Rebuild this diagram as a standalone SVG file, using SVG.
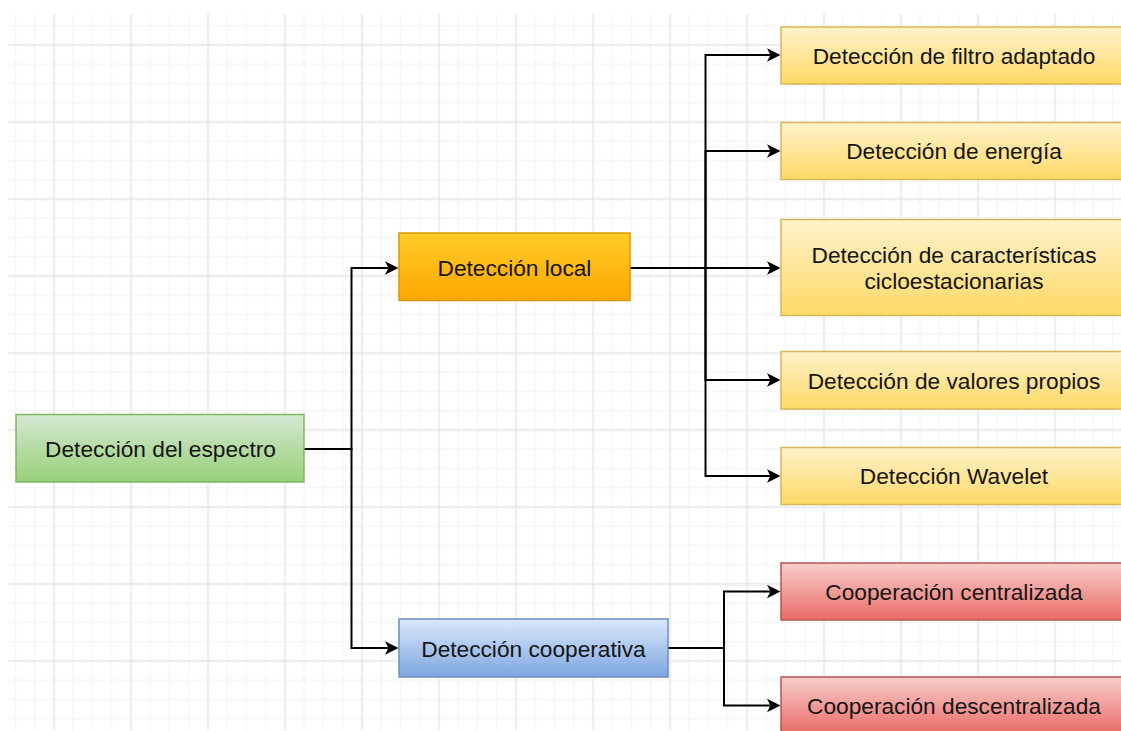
<svg xmlns="http://www.w3.org/2000/svg" width="1121" height="731" viewBox="0 0 1121 731">
  <style>
    .lbl { font-family: "Liberation Sans", Arial, sans-serif; font-size: 22.7px; fill: #151515; text-anchor: middle; }
    .box { stroke-width: 1.5; }
    .edge { fill: none; stroke: #000; stroke-width: 2; marker-end: url(#arrow); }
  </style>
  <defs>
    <!-- grid tile: one major line and three minor lines per 77px -->
    <pattern id="grid" patternUnits="userSpaceOnUse" x="44.375" y="35.375" width="77" height="77">
      <g stroke="#f3f3f3" stroke-width="1.2">
        <path d="M28.875,0V77M48.125,0V77M67.375,0V77"/>
        <path d="M0,28.875H77M0,48.125H77M0,67.375H77"/>
      </g>
      <g stroke="#e6e6e6" stroke-width="1.6">
        <path d="M9.625,0V77M0,9.625H77"/>
      </g>
    </pattern>
    <linearGradient id="gGreen" x1="0" y1="0" x2="0" y2="1">
      <stop offset="0" stop-color="#d5e8d4"/><stop offset="1" stop-color="#97d077"/>
    </linearGradient>
    <linearGradient id="gOrange" x1="0" y1="0" x2="0" y2="1">
      <stop offset="0" stop-color="#ffcd28"/><stop offset="1" stop-color="#ffa500"/>
    </linearGradient>
    <linearGradient id="gBlue" x1="0" y1="0" x2="0" y2="1">
      <stop offset="0" stop-color="#dae8fc"/><stop offset="1" stop-color="#7ea6e0"/>
    </linearGradient>
    <linearGradient id="gYellow" x1="0" y1="0" x2="0" y2="1">
      <stop offset="0" stop-color="#fff2cc"/><stop offset="1" stop-color="#ffd966"/>
    </linearGradient>
    <linearGradient id="gRed" x1="0" y1="0" x2="0" y2="1">
      <stop offset="0" stop-color="#f8cecc"/><stop offset="1" stop-color="#ea6b66"/>
    </linearGradient>
    <marker id="arrow" markerUnits="userSpaceOnUse" markerWidth="14" markerHeight="14" viewBox="0 0 14 14" refX="3.4" refY="7" orient="auto">
      <path d="M13.5,7L0,0.3L3.4,7L0,13.7Z" fill="#000"/>
    </marker>
  </defs>

  <!-- canvas -->
  <rect width="1121" height="731" fill="#ffffff"/>
  <rect x="8" y="14" width="1113" height="716" fill="url(#grid)"/>

  <!-- connectors -->
  <g id="connectors">
    <path class="edge" d="M304,449H351.5V268H388.4"/>
    <path class="edge" d="M304,449H351.5V648H388.4"/>
    <path class="edge" d="M630,268H705.5V55H770.4"/>
    <path class="edge" d="M630,268H705.5V151H770.4"/>
    <path class="edge" d="M630,268H770.4"/>
    <path class="edge" d="M630,268H705.5V380H770.4"/>
    <path class="edge" d="M630,268H705.5V476H770.4"/>
    <path class="edge" d="M668,648H724V591.5H770.4"/>
    <path class="edge" d="M668,648H724V705.5H770.4"/>
  </g>

  <!-- root -->
  <g id="node-espectro">
    <rect class="box" x="16" y="414.5" width="288" height="67.5" fill="url(#gGreen)" stroke="#82b366"/>
    <text class="lbl" x="160.5" y="457">Detección del espectro</text>
  </g>

  <!-- second level -->
  <g id="node-local">
    <rect class="box" x="399" y="233" width="231" height="67.5" fill="url(#gOrange)" stroke="#d79b00"/>
    <text class="lbl" x="514.5" y="275.5">Detección local</text>
  </g>
  <g id="node-cooperativa">
    <rect class="box" x="399" y="619" width="269" height="58" fill="url(#gBlue)" stroke="#6c8ebf"/>
    <text class="lbl" x="533.5" y="656.5">Detección cooperativa</text>
  </g>

  <!-- local detection methods -->
  <g id="node-filtro">
    <rect class="box" x="781" y="27" width="346.5" height="57" fill="url(#gYellow)" stroke="#d6b656"/>
    <text class="lbl" x="954" y="63.5">Detección de filtro adaptado</text>
  </g>
  <g id="node-energia">
    <rect class="box" x="781" y="122.5" width="346.5" height="57" fill="url(#gYellow)" stroke="#d6b656"/>
    <text class="lbl" x="954" y="159">Detección de energía</text>
  </g>
  <g id="node-ciclo">
    <rect class="box" x="781" y="219.5" width="346.5" height="96" fill="url(#gYellow)" stroke="#d6b656"/>
    <text class="lbl" x="954" y="262.5">Detección de características</text>
    <text class="lbl" x="954" y="288.5">cicloestacionarias</text>
  </g>
  <g id="node-valores">
    <rect class="box" x="781" y="351.5" width="346.5" height="57.5" fill="url(#gYellow)" stroke="#d6b656"/>
    <text class="lbl" x="954" y="388.5">Detección de valores propios</text>
  </g>
  <g id="node-wavelet">
    <rect class="box" x="781" y="447.5" width="346.5" height="57" fill="url(#gYellow)" stroke="#d6b656"/>
    <text class="lbl" x="954" y="484">Detección Wavelet</text>
  </g>

  <!-- cooperative schemes -->
  <g id="node-centralizada">
    <rect class="box" x="781" y="563" width="346.5" height="57" fill="url(#gRed)" stroke="#b85450"/>
    <text class="lbl" x="954" y="599.5">Cooperación centralizada</text>
  </g>
  <g id="node-descentralizada">
    <rect class="box" x="781" y="677" width="346.5" height="57" fill="url(#gRed)" stroke="#b85450"/>
    <text class="lbl" x="954" y="713.5">Cooperación descentralizada</text>
  </g>
</svg>
